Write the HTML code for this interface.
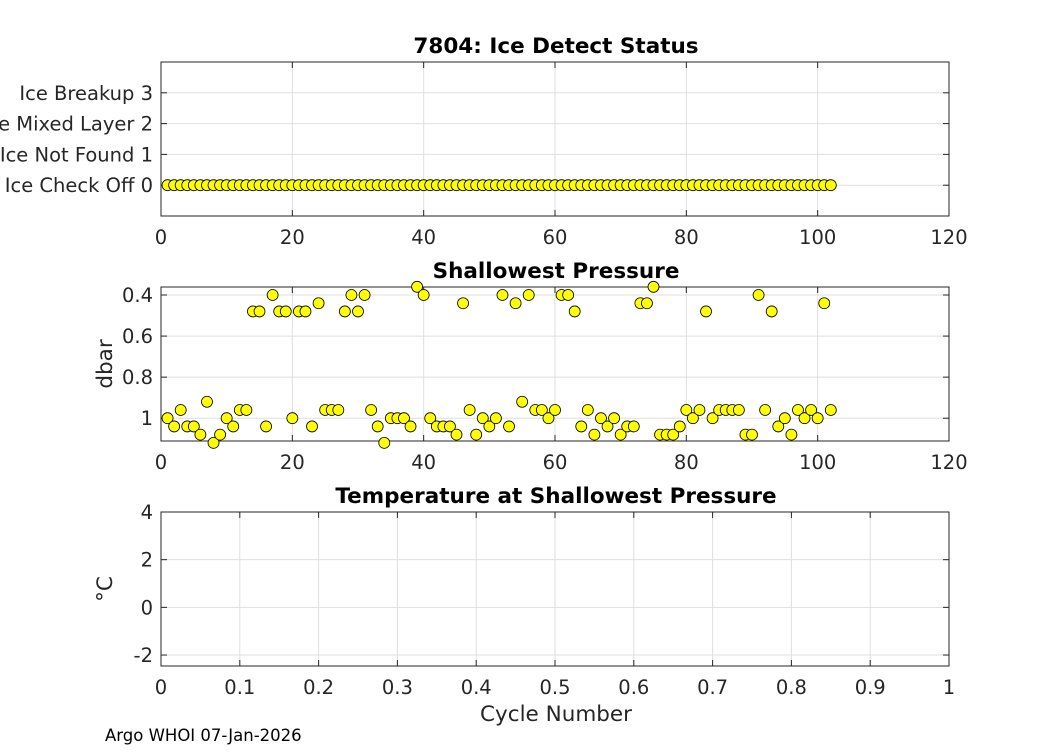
<!DOCTYPE html>
<html><head><meta charset="utf-8"><style>
body{margin:0;background:#fff;overflow:hidden;}
svg text{font-family:"DejaVu Sans","Liberation Sans",sans-serif;fill:#262626;}
</style></head><body>
<svg id="c" width="1050" height="750" xmlns="http://www.w3.org/2000/svg"></svg>
<script>
const cycles=[];for(let i=1;i<=102;i++)cycles.push(i);
const iceStatus=cycles.map(()=>0);
const shallowPres=[1.0,1.04,0.96,1.04,1.04,1.08,0.92,1.12,1.08,1.0,1.04,0.96,0.96,0.48,0.48,1.04,0.4,0.48,0.48,1.0,
0.48,0.48,1.04,0.44,0.96,0.96,0.96,0.48,0.4,0.48,0.4,0.96,1.04,1.12,1.0,1.0,1.0,1.04,0.36,0.4,
1.0,1.04,1.04,1.04,1.08,0.44,0.96,1.08,1.0,1.04,1.0,0.4,1.04,0.44,0.92,0.4,0.96,0.96,1.0,0.96,
0.4,0.4,0.48,1.04,0.96,1.08,1.0,1.04,1.0,1.08,1.04,1.04,0.44,0.44,0.36,1.08,1.08,1.08,1.04,0.96,
1.0,0.96,0.48,1.0,0.96,0.96,0.96,0.96,1.08,1.08,0.4,0.96,0.48,1.04,1.0,1.08,0.96,1.0,0.96,1.0,0.44,0.96];
const xTicks=[0,20,40,60,80,100,120];
const iceTicks=[0,1,2,3];
const iceLabels=["Ice Check Off 0","Ice Not Found 1","Ice Mixed Layer 2","Ice Breakup 3"];
const presTicks=[0.4,0.6,0.8,1];
const presLabels=["0.4","0.6","0.8","1"];
const tempTicks=[-2,0,2,4];
const tempXTicks=[0,0.1,0.2,0.3,0.4,0.5,0.6,0.7,0.8,0.9,1];

const svg=document.getElementById('c');const NS="http://www.w3.org/2000/svg";
function el(t,a,txt){const e=document.createElementNS(NS,t);for(const k in a)e.setAttribute(k,a[k]);if(txt!==undefined)e.textContent=txt;svg.appendChild(e);return e;}
const L=161,R=949;
function panel(name,top,bot,xmin,xmax,ymin,ymax,rev,xt,yt,ylab,title,ylabel){
 const sx=v=>L+(v-xmin)/(xmax-xmin)*(R-L);
 const sy=v=>rev?top+(v-ymin)/(ymax-ymin)*(bot-top):bot-(v-ymin)/(ymax-ymin)*(bot-top);
 const bg=el('rect',{x:L,y:top,width:R-L,height:bot-top,fill:'#fff'});
 
 
 xt.forEach(v=>{const g=el('line',{x1:sx(v),x2:sx(v),y1:top,y2:bot,stroke:'#dfdfdf'});
  
  
  const t=el('text',{x:sx(v),y:bot+28,'text-anchor':'middle','font-size':'19.5'},String(v));
  
  
  el('line',{x1:sx(v),x2:sx(v),y1:bot,y2:bot-6,stroke:'#262626'});el('line',{x1:sx(v),x2:sx(v),y1:top,y2:top+6,stroke:'#262626'});});
 yt.forEach((v,i)=>{const g=el('line',{x1:L,x2:R,y1:sy(v),y2:sy(v),stroke:'#dfdfdf'});
  
  
  const t=el('text',{x:L-8,y:sy(v)+7,'text-anchor':'end','font-size':'19.5'},ylab[i]);
  
  
  el('line',{x1:L,x2:L+6,y1:sy(v),y2:sy(v),stroke:'#262626'});el('line',{x1:R,x2:R-6,y1:sy(v),y2:sy(v),stroke:'#262626'});});
 const b=el('rect',{x:L,y:top,width:R-L,height:bot-top,fill:'none',stroke:'#262626','stroke-width':1});
 
 
 const tt=el('text',{x:(L+R)/2+1,y:top-9,'text-anchor':'middle','font-size':'21.5','font-weight':'bold'},title);
 tt.style.fill='#000';
 
 
 if(ylabel){const yl=el('text',{x:0,y:0,'text-anchor':'middle','font-size':'21.5',transform:`translate(112,${(top+bot)/2}) rotate(-90)`},ylabel);
  
  }
 return {sx,sy};
}
let p=panel('ice-status',62,216,0,120,-1,4,false,xTicks,iceTicks,iceLabels,'7804: Ice Detect Status','');
cycles.forEach((c,i)=>{const m=el('circle',{cx:p.sx(c),cy:p.sy(iceStatus[i]),r:5.5,fill:'#ffff00',stroke:'#000','stroke-width':0.8});
 
 });
p=panel('shallowest-pressure',287,441,0,120,0.361,1.111,true,xTicks,presTicks,presLabels,'Shallowest Pressure','dbar');
cycles.forEach((c,i)=>{const m=el('circle',{cx:p.sx(c),cy:p.sy(shallowPres[i]),r:5.5,fill:'#ffff00',stroke:'#000','stroke-width':0.8});
 
 });
p=panel('temperature',512,666,0,1,-2.46,4,false,tempXTicks,tempTicks,tempTicks.map(String),'Temperature at Shallowest Pressure','°C');
const xl=el('text',{x:556,y:721,'text-anchor':'middle','font-size':'21.5'},'Cycle Number');


const ft=el('text',{x:105,y:741,'font-size':'16.5'},'Argo WHOI 07-Jan-2026');
ft.style.fill='#000';


</script>
</body></html>
